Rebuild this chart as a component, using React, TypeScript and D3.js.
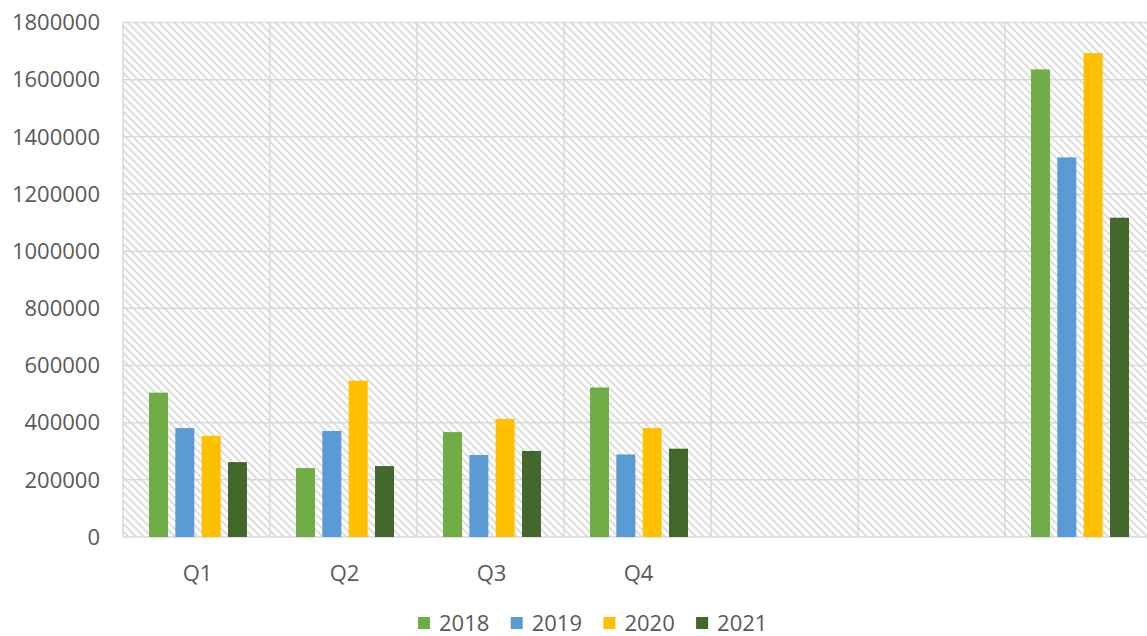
import React from "react";
import * as d3 from "d3";

const categories = ["Q1", "Q2", "Q3", "Q4", "", "", ""];
const years = ["2018", "2019", "2020", "2021"];
const colors = ["#70ad47", "#5b9bd5", "#ffc000", "#43682b"];
const series2018 = [505000, 241000, 367000, 523000, null, null, 1636000];
const series2019 = [381000, 371000, 287000, 289000, null, null, 1328000];
const series2020 = [354000, 547000, 413000, 381000, null, null, 1693000];
const series2021 = [262000, 248000, 301000, 309000, null, null, 1117000];
const yTicks = [0, 200000, 400000, 600000, 800000, 1000000, 1200000, 1400000, 1600000, 1800000];

const seriesList = [series2018, series2019, series2020, series2021];

const W = 1147;
const H = 636;
const left = 123;
const bandW = 147;
const top = 22.5;
const bottom = 537;
const font = "'Open Sans', 'Liberation Sans', sans-serif";
const textColor = "#595959";

export default function App() {
  const idx = categories.map((_, i) => String(i));
  const x = d3.scaleBand<string>().domain(idx).range([left, left + bandW * categories.length]);
  const xi = d3.scaleBand<string>().domain(years).range([26, 124]).paddingInner(0.278).paddingOuter(0);
  const y = d3.scaleLinear().domain([0, 1800000]).range([bottom, top]);
  const plotRight = left + bandW * categories.length;

  return (
    <svg width={W} height={H} style={{ position: "absolute", left: 0, top: 0, background: "#fff" }}>
      <defs>
        <pattern id="hatch" patternUnits="userSpaceOnUse" width="5.5" height="5.5" patternTransform="rotate(45)">
          <line x1="0" y1="2.75" x2="5.5" y2="2.75" stroke="#d2d2d2" strokeWidth="1.5" />
        </pattern>
      </defs>
      <rect x={left} y={top} width={plotRight - left} height={bottom - top} fill="url(#hatch)" />
      {yTicks.map((t) => (
        <line key={"h" + t} x1={left} x2={plotRight} y1={y(t)} y2={y(t)} stroke="#d9d9d9" strokeWidth={1.5} />
      ))}
      {idx.map((c) => (
        <line key={"v" + c} x1={x(c)!} x2={x(c)!} y1={top} y2={bottom} stroke="#d9d9d9" strokeWidth={1.5} />
      ))}
      {idx.map((c, ci) =>
        years.map((yr, si) => {
          const v = seriesList[si][ci];
          if (v == null) return null;
          return (
            <rect
              key={c + yr}
              x={x(c)! + xi(yr)!}
              y={y(v)}
              width={xi.bandwidth()}
              height={y(0) - y(v)}
              fill={colors[si]}
            />
          );
        })
      )}
      {yTicks.map((t) => (
        <text
          key={"t" + t}
          x={100}
          y={y(t)}
          dy="0.35em"
          textAnchor="end"
          fontFamily={font}
          fontSize={22}
          fill={textColor}
        >
          {t}
        </text>
      ))}
      {idx.map((c, ci) => (
        <text
          key={"c" + c}
          x={x(c)! + x.bandwidth() / 2 + 1}
          y={573}
          dy="0.35em"
          textAnchor="middle"
          fontFamily={font}
          fontSize={22}
          fill={textColor}
        >
          {categories[ci]}
        </text>
      ))}
      {years.map((yr, i) => (
        <g key={"l" + yr} transform={`translate(${418 + i * 92.7},623)`}>
          <rect x={0} y={-6} width={12} height={12} fill={colors[i]} />
          <text x={21} y={0} dy="0.35em" fontFamily={font} fontSize={22} fill={textColor}>
            {yr}
          </text>
        </g>
      ))}
    </svg>
  );
}
